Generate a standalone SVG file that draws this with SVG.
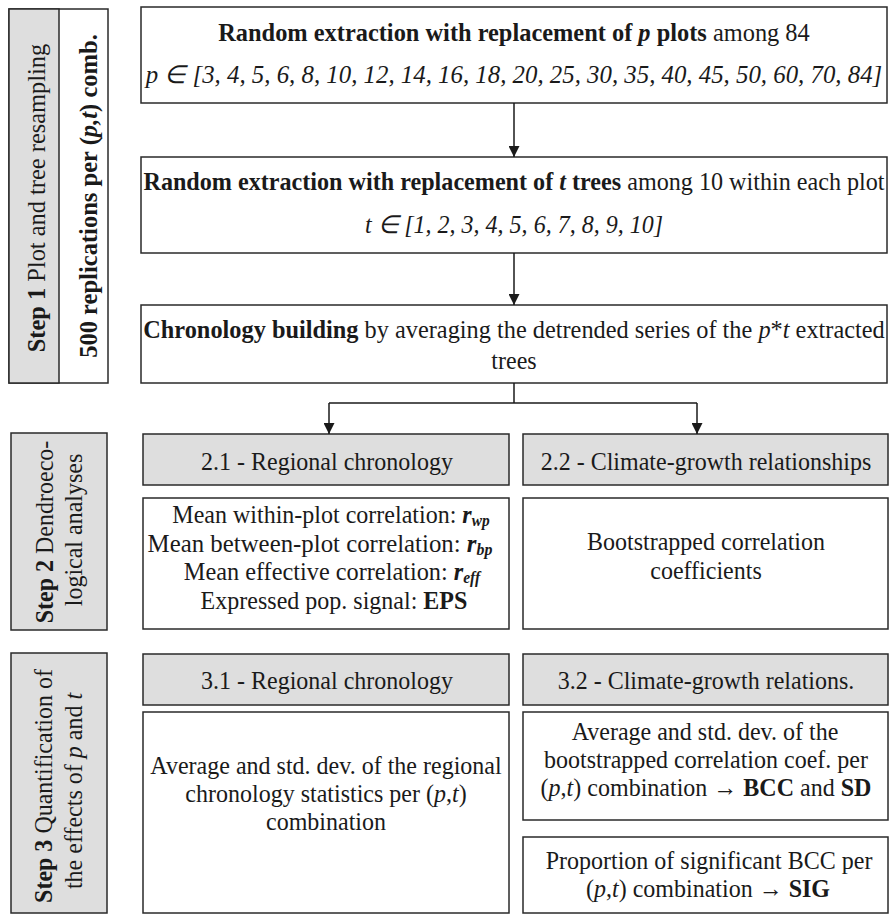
<svg xmlns="http://www.w3.org/2000/svg" width="890" height="916" viewBox="0 0 890 916">
<defs>
<style>
text{font-family:"Liberation Serif","Times New Roman",serif;font-size:25px;fill:#1a1a1a}
.c{text-anchor:middle}
.b{font-weight:bold}
.i{font-style:italic}
.box{fill:#fff;stroke:#2a2a2a;stroke-width:1.5}
.gray{fill:#dedede;stroke:#2a2a2a;stroke-width:1.5}
.conn{fill:none;stroke:#1a1a1a;stroke-width:1.5}
.sub{font-size:16px}
</style>
<marker id="arr" viewBox="0 0 10 10" refX="10" refY="5" markerWidth="14" markerHeight="11" orient="auto" markerUnits="userSpaceOnUse">
<path d="M0,0 L10,5 L0,10 z" fill="#1a1a1a"/>
</marker>
</defs>
<rect width="890" height="916" fill="#fff"/>

<g id="step1-label">
<rect class="box" x="9" y="9" width="99" height="374"/>
<rect class="gray" x="9" y="9" width="50" height="374"/>
<text class="c" transform="translate(45,198) rotate(-90) scale(0.977,1)"><tspan class="b">Step 1</tspan> Plot and tree resampling</text>
<text class="c b" transform="translate(97,196) rotate(-90) scale(0.983,1)">500 replications per (<tspan class="i">p,t</tspan>) comb.</text>
</g>

<g id="step2-label">
<rect class="gray" x="11" y="433" width="96" height="197"/>
<text class="c" transform="translate(53,532) rotate(-90) scale(0.96,1)"><tspan class="b">Step 2</tspan> Dendroeco-</text>
<text class="c" transform="translate(82,530) rotate(-90) scale(0.96,1)">logical analyses</text>
</g>

<g id="step3-label">
<rect class="gray" x="11" y="653" width="96" height="260"/>
<text class="c" transform="translate(52,786) rotate(-90) scale(0.96,1)"><tspan class="b">Step 3</tspan> Quantification of</text>
<text class="c" transform="translate(82,791) rotate(-90) scale(0.96,1)">the effects of <tspan class="i">p</tspan> and <tspan class="i">t</tspan></text>
</g>

<g id="plot-extraction">
<rect class="box" x="141" y="7" width="746" height="96"/>
<text class="c" transform="translate(514,41) scale(0.976,1)"><tspan class="b">Random extraction with replacement of </tspan><tspan class="b i">p</tspan><tspan class="b"> plots</tspan> among 84</text>
<text class="c i" transform="translate(514,83) scale(0.994,1)">p ∈ [3, 4, 5, 6, 8, 10, 12, 14, 16, 18, 20, 25, 30, 35, 40, 45, 50, 60, 70, 84]</text>
</g>

<g id="tree-extraction">
<rect class="box" x="141" y="157" width="746" height="96"/>
<text class="c" transform="translate(514,190) scale(0.966,1)"><tspan class="b">Random extraction with replacement of </tspan><tspan class="b i">t</tspan><tspan class="b"> trees</tspan> among 10 within each plot</text>
<text class="c i" transform="translate(514,233) scale(0.961,1)">t ∈ [1, 2, 3, 4, 5, 6, 7, 8, 9, 10]</text>
</g>

<g id="chronology-building">
<rect class="box" x="141" y="305" width="746" height="78"/>
<text class="c" transform="translate(514,338) scale(0.974,1)"><tspan class="b">Chronology building</tspan> by averaging the detrended series of the <tspan class="i">p</tspan>*<tspan class="i">t</tspan> extracted</text>
<text class="c" transform="translate(514,369) scale(0.961,1)">trees</text>
</g>

<g id="h21">
<rect class="gray" x="143" y="434" width="366" height="51"/>
<text class="c" transform="translate(327,470) scale(0.961,1)">2.1 - Regional chronology</text>
</g>
<g id="h22">
<rect class="gray" x="523" y="434" width="365" height="51"/>
<text class="c" transform="translate(706,470) scale(0.961,1)">2.2 - Climate-growth relationships</text>
</g>

<g id="b21">
<rect class="box" x="143" y="498" width="366" height="131"/>
<text class="c" transform="translate(331,523) scale(0.961,1)">Mean within-plot correlation: <tspan class="b i">r</tspan><tspan class="b i sub" dy="3">wp</tspan></text>
<text class="c" transform="translate(320,551.5) scale(0.994,1)">Mean between-plot correlation: <tspan class="b i">r</tspan><tspan class="b i sub" dy="3">bp</tspan></text>
<text class="c" transform="translate(332,580) scale(0.972,1)">Mean effective correlation: <tspan class="b i">r</tspan><tspan class="b i sub" dy="3">eff</tspan></text>
<text class="c" transform="translate(334,608.5) scale(0.961,1)">Expressed pop. signal: <tspan class="b">EPS</tspan></text>
</g>
<g id="b22">
<rect class="box" x="523" y="498" width="365" height="131"/>
<text class="c" transform="translate(706,550) scale(0.961,1)">Bootstrapped correlation</text>
<text class="c" transform="translate(706,579) scale(0.961,1)">coefficients</text>
</g>

<g id="h31">
<rect class="gray" x="143" y="654" width="366" height="51"/>
<text class="c" transform="translate(327,689) scale(0.961,1)">3.1 - Regional chronology</text>
</g>
<g id="h32">
<rect class="gray" x="523" y="654" width="365" height="51"/>
<text class="c" transform="translate(706,689) scale(0.961,1)">3.2 - Climate-growth relations.</text>
</g>

<g id="b31">
<rect class="box" x="143" y="712" width="366" height="201"/>
<text class="c" transform="translate(326,774) scale(0.961,1)">Average and std. dev. of the regional</text>
<text class="c" transform="translate(326,802) scale(0.961,1)">chronology statistics per (<tspan class="i">p</tspan>,<tspan class="i">t</tspan>)</text>
<text class="c" transform="translate(326,830) scale(0.961,1)">combination</text>
</g>
<g id="b32a">
<rect class="box" x="523" y="712" width="365" height="108"/>
<text class="c" transform="translate(705,740) scale(0.961,1)">Average and std. dev. of the</text>
<text class="c" transform="translate(706,768) scale(0.961,1)">bootstrapped correlation coef. per</text>
<text class="c" transform="translate(706,796) scale(0.961,1)">(<tspan class="i">p</tspan>,<tspan class="i">t</tspan>) combination → <tspan class="b">BCC</tspan> and <tspan class="b">SD</tspan></text>
</g>
<g id="b32b">
<rect class="box" x="523" y="837" width="365" height="76"/>
<text class="c" transform="translate(709,869) scale(0.961,1)">Proportion of significant BCC per</text>
<text class="c" transform="translate(708,897) scale(0.961,1)">(<tspan class="i">p</tspan>,<tspan class="i">t</tspan>) combination → <tspan class="b">SIG</tspan></text>
</g>

<g id="connectors">
<line class="conn" x1="514" y1="103" x2="514" y2="157" marker-end="url(#arr)"/>
<line class="conn" x1="514" y1="253" x2="514" y2="305" marker-end="url(#arr)"/>
<polyline class="conn" points="514,383 514,403"/>
<polyline class="conn" points="329,403 697,403"/>
<line class="conn" x1="329" y1="403" x2="329" y2="434" marker-end="url(#arr)"/>
<line class="conn" x1="697" y1="403" x2="697" y2="434" marker-end="url(#arr)"/>
</g>
</svg>
